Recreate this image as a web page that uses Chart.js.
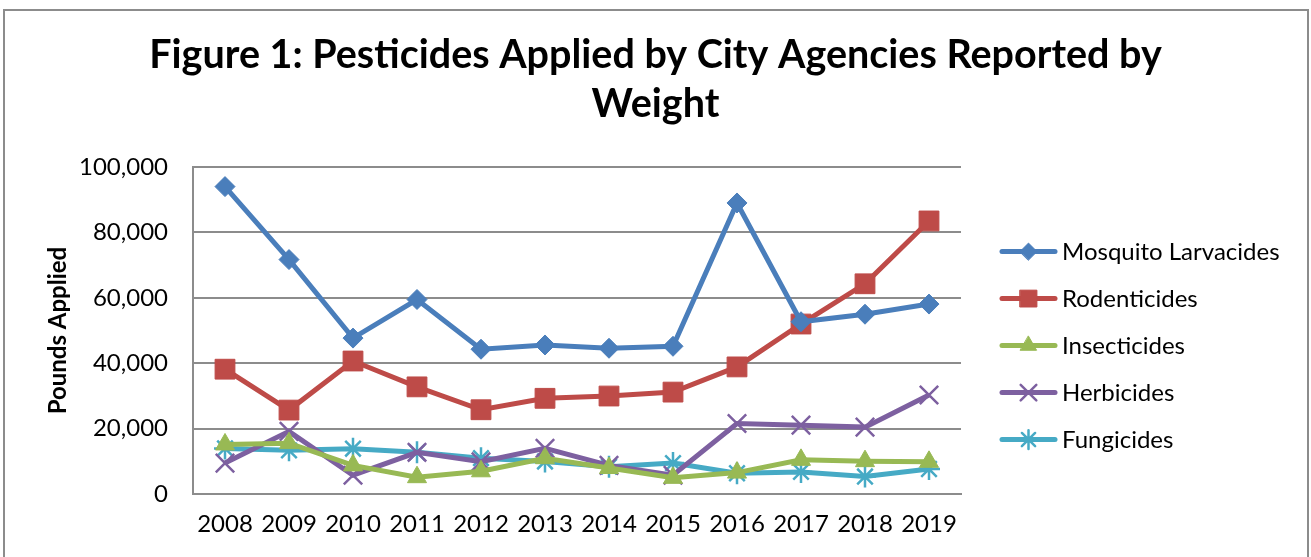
<!DOCTYPE html>
<html>
<head>
<meta charset="utf-8">
<script src="https://cdn.jsdelivr.net/npm/chart.js@4/dist/chart.umd.min.js"></script>
<style>
  html, body { margin: 0; padding: 0; background: #fff; }
  #frame { position: absolute; left: 3px; top: 9px; width: 1302px; height: 560px; border: 2px solid #8c8c8c; }
  #wrap { position: absolute; left: 0; top: 0; width: 1311px; height: 557px; }
</style>
</head>
<body>
<div id="frame"></div>
<div id="wrap"><canvas id="pest-chart"></canvas></div>
<script>
const years = ['2008', '2009', '2010', '2011', '2012', '2013', '2014', '2015', '2016', '2017', '2018', '2019'];
const mosquito = [94000, 71700, 47700, 59500, 44300, 45600, 44600, 45200, 89000, 52700, 55000, 58100];
const rodent = [38200, 25700, 40700, 32800, 25800, 29300, 30000, 31200, 38900, 52000, 64300, 83500];
const insect = [15200, 15600, 8800, 5200, 7000, 11000, 8000, 5000, 6600, 10500, 10100, 9900];
const herb = [9500, 19200, 5800, 12800, 9900, 14000, 8800, 5800, 21600, 21100, 20500, 30300];
const fung = [14000, 13400, 13900, 12800, 11000, 10000, 8400, 9500, 6400, 6800, 5400, 7700];
const yTicks = [0, 20000, 40000, 60000, 80000, 100000];

const ctx = document.getElementById('pest-chart').getContext('2d');

function series(label, data, color, style, radius) {
    return {
        label: label,
        data: data,
        borderColor: color,
        backgroundColor: color,
        borderWidth: 5,
        pointStyle: style,
        pointRadius: radius,
        pointBorderWidth: (style === 'crossRot' || style === 'star') ? 2.5 : 1,
        pointBackgroundColor: color,
        pointBorderColor: color,
        tension: 0,
        yAxisID: 'y'
    };
}

// Excel style legend: a thick line with the marker on it, text to the right
const excelLegend = {
    id: 'excelLegend',
    afterDraw(chart) {
        const c = chart.ctx;
        const area = chart.chartArea;
        const x0 = area.right + 39;
        const lineLen = 57;
        const step = 47;
        let y = (area.top + area.bottom) / 2 + 15 - step * 2;
        chart.data.datasets.forEach(ds => {
            c.save();
            c.strokeStyle = ds.borderColor;
            c.lineWidth = 5;
            c.lineCap = 'round';
            c.beginPath();
            c.moveTo(x0 + 2, y);
            c.lineTo(x0 + lineLen - 2, y);
            c.stroke();
            c.fillStyle = ds.pointBackgroundColor;
            c.strokeStyle = ds.pointBorderColor;
            c.lineWidth = ds.pointBorderWidth;
            Chart.helpers.drawPoint(c, {
                pointStyle: ds.pointStyle,
                radius: ds.pointRadius * 0.85,
                rotation: 0,
                borderWidth: ds.pointBorderWidth
            }, x0 + lineLen / 2, y);
            c.fillStyle = '#000';
            c.font = '24px Lato';
            c.textAlign = 'left';
            c.textBaseline = 'middle';
            c.fillText(ds.label, x0 + lineLen + 5, y + 1);
            c.restore();
            y += step;
        });
    }
};

let chart = new Chart(ctx, {
    type: 'line',
    data: {
        labels: years,
        datasets: [
            series('Mosquito Larvacides', mosquito, '#4a7ebb', 'rectRot', 10),
            series('Rodenticides', rodent, '#be4b48', 'rect', 14),
            series('Insecticides', insect, '#98b954', 'triangle', 11),
            series('Herbicides', herb, '#7d60a0', 'crossRot', 13),
            series('Fungicides', fung, '#46aac5', 'star', 11)
        ]
    },
    options: {
        responsive: true,
        maintainAspectRatio: false,
        animation: false,
        layout: { padding: { left: 0, right: 0, top: 31, bottom: 2 } },
        plugins: {
            title: {
                display: true,
                text: ['Figure 1: Pesticides Applied by City Agencies Reported by', 'Weight'],
                color: '#000',
                font: { family: 'Lato', size: 39.5, weight: 'bold', lineHeight: 1.24 },
                padding: { top: 0, bottom: 38 }
            },
            legend: { display: false },
            tooltip: { enabled: false }
        },
        scales: {
            x: {
                offset: true,
                grid: { display: false, drawTicks: false },
                border: { color: '#8c8c8c', width: 2 },
                ticks: { color: '#000', font: { family: 'Lato', size: 24 }, padding: 16, maxRotation: 0 }
            },
            y: {
                min: 0,
                max: 100000,
                afterBuildTicks: axis => { axis.ticks = yTicks.map(v => ({ value: v })); },
                afterFit: axis => { axis.width = 193; },
                grid: { color: '#8c8c8c', lineWidth: 2, drawTicks: false },
                border: { color: '#8c8c8c', width: 2 },
                ticks: {
                    color: '#000',
                    font: { family: 'Lato', size: 24 },
                    padding: 25,
                    callback: v => v.toLocaleString('en-US')
                },
                title: {
                    display: true,
                    text: 'Pounds Applied',
                    color: '#000',
                    font: { family: 'Lato', size: 24, weight: 'bold' },
                    padding: { top: 44, bottom: 0 }
                }
            },
            // empty axis on the right keeps room for the legend
            legendRoom: {
                position: 'right',
                min: 0,
                max: 1,
                afterFit: axis => { axis.width = 350; },
                grid: { display: false, drawTicks: false },
                border: { display: false },
                ticks: { display: false }
            }
        }
    },
    plugins: [excelLegend]
});
</script>
</body>
</html>
